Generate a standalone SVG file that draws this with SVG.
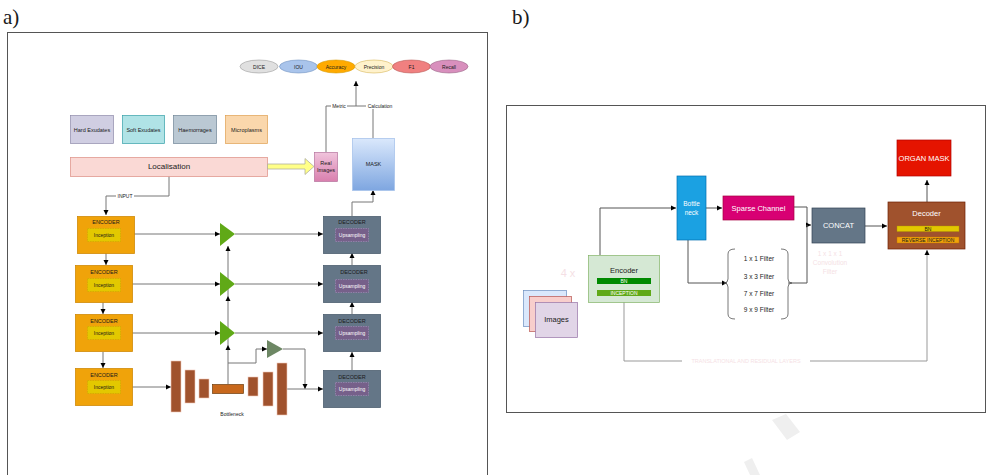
<svg xmlns="http://www.w3.org/2000/svg" width="989" height="475" viewBox="0 0 989 475">
<defs>
<marker id="ah" markerUnits="userSpaceOnUse" markerWidth="6" markerHeight="6" refX="5" refY="3" orient="auto">
<path d="M0,0.5 L5,3 L0,5.5 Z" fill="#000"/>
</marker>
<linearGradient id="maskg" x1="0" y1="0" x2="0" y2="1">
<stop offset="0" stop-color="#dae8fc"/>
<stop offset="1" stop-color="#7ea6e0"/>
</linearGradient>
<linearGradient id="realg" x1="0" y1="0" x2="0" y2="1">
<stop offset="0" stop-color="#f0c4dc"/>
<stop offset="1" stop-color="#d97fae"/>
</linearGradient>
<style>
text{font-family:"Liberation Sans",Arial,sans-serif;fill:#1a1a1a;text-anchor:middle;dominant-baseline:central}
.lbl{font-family:"Liberation Serif","Times New Roman",serif;font-size:21px;text-anchor:start}
.frame{fill:none;stroke:#555;stroke-width:1}
.c{fill:none;stroke:#777;stroke-width:1}
.ca{fill:none;stroke:#777;stroke-width:1;marker-end:url(#ah)}
.cb{fill:none;stroke:#555;stroke-width:1;marker-end:url(#ah)}
.t5{font-size:5px}
.t55{font-size:5.5px}
.t6{font-size:6px}
.t65{font-size:6.5px}
.t7{font-size:7.5px}
.enc{fill:#f0a30a;stroke:#d08a08;stroke-width:0.8}
.inc{fill:#e3c800;stroke:#c9a800;stroke-width:0.6;stroke-dasharray:1.5 1}
.dec{fill:#647687;stroke:#4e5f70;stroke-width:0.8}
.ups{fill:#76608a;stroke:#a98dc0;stroke-width:0.6;stroke-dasharray:1.5 1}
.tri{fill:#60a917}
.bar{fill:#a0522d;stroke:#f0c8b8;stroke-width:0.6}
.w{fill:#fff}
.fp{fill:#f5dfe5}
</style>
</defs>

<!-- panel labels and frames -->
<text class="lbl" x="3" y="17">a)</text>
<text class="lbl" x="512" y="17">b)</text>
<rect class="frame" x="7.5" y="32.5" width="480" height="450"/>
<rect class="frame" x="506.5" y="105.5" width="479" height="307"/>

<!-- ===== connectors panel a ===== -->
<g id="connectors-a">
<path class="ca" d="M356,106 V81"/>
<path class="c" d="M326,152 V106 H373 V138"/>
<path class="ca" d="M169,176 V196 H106 V215"/>
<path class="ca" d="M106,253 V265"/>
<path class="ca" d="M103,302 V314"/>
<path class="ca" d="M103,352 V368"/>
<path class="ca" d="M134,234 H220"/>
<path class="ca" d="M132,284 H220"/>
<path class="ca" d="M132,333 H220"/>
<path class="ca" d="M132,387 H171"/>
<path class="ca" d="M235,234 H323"/>
<path class="ca" d="M235,284 H323"/>
<path class="ca" d="M235,333 H323"/>
<path class="ca" d="M228,384 V345"/>
<path class="ca" d="M228,345 V296"/>
<path class="ca" d="M228,296 V246"/>
<path class="ca" d="M228,363 H256 V349 H267"/>
<path class="ca" d="M283,349 H305 V389"/>
<path class="ca" d="M287,389 H323"/>
<path class="ca" d="M352,370 V352"/>
<path class="ca" d="M352,314 V302"/>
<path class="ca" d="M352,265 V253"/>
<path class="ca" d="M352,216 V202 H373 V190"/>
</g>

<!-- metric ovals -->
<g id="metrics">
<ellipse cx="259" cy="66.5" rx="19" ry="6.5" fill="#e0e0e0" stroke="#9a9a9a" stroke-width="0.6"/>
<text class="t5" x="259" y="66.5">DICE</text>
<ellipse cx="298.5" cy="66.5" rx="19" ry="6.5" fill="#a9c4eb" stroke="#6c8ebf" stroke-width="0.6"/>
<text class="t5" x="298.5" y="66.5">IOU</text>
<ellipse cx="336" cy="66.5" rx="19" ry="6.5" fill="#ffaa00" stroke="#d79b00" stroke-width="0.6"/>
<text class="t5" x="336" y="66.5">Accuracy</text>
<ellipse cx="374" cy="66.5" rx="19" ry="6.5" fill="#fff2cc" stroke="#d6b656" stroke-width="0.6"/>
<text class="t5" x="374" y="66.5">Precision</text>
<ellipse cx="411.5" cy="66.5" rx="19" ry="6.5" fill="#f08080" stroke="#b85450" stroke-width="0.6"/>
<text class="t5" x="411.5" y="66.5">F1</text>
<ellipse cx="449" cy="66.5" rx="19" ry="6.5" fill="#d88fbd" stroke="#996185" stroke-width="0.6"/>
<text class="t5" x="449" y="66.5">Recall</text>
</g>

<g id="metric-labels">
<rect x="331" y="103" width="16" height="6" fill="#fff"/>
<text class="t5" x="339" y="106">Metric</text>
<rect x="366" y="103" width="28" height="6" fill="#fff"/>
<text class="t5" x="380" y="106">Calculation</text>
<rect x="116" y="193" width="18" height="6" fill="#fff"/>
<text class="t5" x="125" y="196">INPUT</text>
</g>

<!-- legend -->
<g id="legend-hard"><rect x="70.5" y="115.5" width="43" height="28" fill="#d0cee2" stroke="#8f8aaa" stroke-width="0.7"/><text class="t55" x="92" y="129.5">Hard Exudates</text></g>
<g id="legend-soft"><rect x="122.5" y="115.5" width="42" height="28" fill="#b0e3e6" stroke="#36a0a8" stroke-width="0.7"/><text class="t55" x="143.5" y="129.5">Soft Exudates</text></g>
<g id="legend-haem"><rect x="173.5" y="115.5" width="43" height="28" fill="#bac8d3" stroke="#6f8596" stroke-width="0.7"/><text class="t55" x="195" y="129.5">Haemorrages</text></g>
<g id="legend-micro"><rect x="225.5" y="115.5" width="42" height="28" fill="#fad7ac" stroke="#e0a050" stroke-width="0.7"/><text class="t55" x="246.5" y="129.5">Microplasms</text></g>

<g id="localisation"><rect x="70.5" y="157.5" width="197" height="19" fill="#fad9d5" stroke="#e09890" stroke-width="0.8"/><text x="169" y="166.5" style="font-size:8px;fill:#222">Localisation</text></g>
<g id="yellow-arrow"><path d="M267.5,164 H305 V158.5 L314,166.5 L305,174.5 V169 H267.5 Z" fill="#ffff88" stroke="#b0b0a0" stroke-width="0.8"/></g>
<g id="real-images"><rect x="314.5" y="152.5" width="23" height="29" fill="url(#realg)" stroke="#b5739d" stroke-width="0.7"/><text class="t55" x="326" y="162.5">Real</text><text class="t55" x="326" y="170">Images</text></g>
<g id="mask"><rect x="352.5" y="138.5" width="42" height="52" fill="url(#maskg)" stroke="#a9c4eb" stroke-width="0.8"/><text class="t55" x="373.5" y="164">MASK</text></g>

<!-- encoders -->
<g id="encoder1"><rect class="enc" x="77.5" y="216.5" width="57" height="37"/><text class="t55" x="106" y="221.5">ENCODER</text><rect class="inc" x="87.5" y="228.5" width="33" height="13"/><text class="t5" x="104" y="235">Inception</text></g>
<g id="encoder2"><rect class="enc" x="75.5" y="265.5" width="57" height="37"/><text class="t55" x="104" y="271.5">ENCODER</text><rect class="inc" x="87.5" y="278.5" width="33" height="13"/><text class="t5" x="104" y="285">Inception</text></g>
<g id="encoder3"><rect class="enc" x="75.5" y="314.5" width="57" height="37"/><text class="t55" x="104" y="320.5">ENCODER</text><rect class="inc" x="87.5" y="326.5" width="33" height="13"/><text class="t5" x="104" y="333">Inception</text></g>
<g id="encoder4"><rect class="enc" x="75.5" y="368.5" width="57" height="37"/><text class="t55" x="104" y="374.5">ENCODER</text><rect class="inc" x="87.5" y="380.5" width="33" height="13"/><text class="t5" x="104" y="387">Inception</text></g>

<!-- attention triangles -->
<g id="tri1"><path class="tri" d="M220,223 L235,234 L220,246 Z"/></g>
<g id="tri2"><path class="tri" d="M220,272 L235,284 L220,296 Z"/></g>
<g id="tri3"><path class="tri" d="M220,321 L235,333 L220,345 Z"/></g>
<g id="tri4"><path d="M267,340 L283,349 L267,358 Z" fill="#6d8764"/></g>

<!-- bottleneck -->
<g id="bottleneck-a">
<rect class="bar" x="171" y="361" width="10" height="51"/>
<rect class="bar" x="185" y="370" width="10" height="33"/>
<rect class="bar" x="199" y="379" width="10" height="19"/>
<rect x="212.5" y="384.5" width="31" height="9" fill="#c8681c" stroke="#6d3c0c" stroke-width="0.7"/>
<rect class="bar" x="248" y="377" width="10" height="19"/>
<rect class="bar" x="263" y="372" width="10" height="34"/>
<rect class="bar" x="277" y="363" width="10" height="52"/>
<text class="t5" x="232" y="414">Bottleneck</text>
</g>

<!-- decoders -->
<g id="decoder1"><rect class="dec" x="323.5" y="216.5" width="57" height="37"/><text class="t55" x="352" y="221.5">DECODER</text><rect class="ups" x="335.5" y="228.5" width="33" height="13"/><text class="t5 w" x="352" y="235">Upsampling</text></g>
<g id="decoder2"><rect class="dec" x="323.5" y="265.5" width="57" height="37"/><text class="t55" x="354" y="271.5">DECODER</text><rect class="ups" x="335.5" y="279.5" width="33" height="13"/><text class="t5 w" x="352" y="286">Upsampling</text></g>
<g id="decoder3"><rect class="dec" x="323.5" y="314.5" width="57" height="37"/><text class="t55" x="352" y="320.5">DECODER</text><rect class="ups" x="335.5" y="326.5" width="33" height="13"/><text class="t5 w" x="352" y="333">Upsampling</text></g>
<g id="decoder4"><rect class="dec" x="323.5" y="370.5" width="57" height="37"/><text class="t55" x="352" y="377">DECODER</text><rect class="ups" x="335.5" y="382.5" width="33" height="13"/><text class="t5 w" x="352" y="389">Upsampling</text></g>

<!-- ===== panel b ===== -->
<g id="connectors-b">
<path class="cb" d="M600,255 V208 H676"/>
<path class="cb" d="M706,208 H722"/>
<path class="cb" d="M794,207 H807 V225 H811"/>
<path class="c" style="stroke:#555" d="M788,283 H807 V225"/>
<path class="cb" d="M688,240 V283 H727"/>
<path class="cb" d="M865,226 H887"/>
<path class="cb" d="M927,202 V180"/>
<path class="c" style="stroke:#999" d="M624,302 V361 H682"/>
<path class="cb" style="stroke:#999" d="M810,361 H927 V250"/>
</g>

<g id="images">
<rect x="523.5" y="290.5" width="43" height="36" fill="#dae8fc" stroke="#6c8ebf" stroke-width="0.7"/>
<rect x="529.5" y="296.5" width="42" height="35" fill="#f8cecc" stroke="#b85450" stroke-width="0.7"/>
<rect x="535.5" y="302.5" width="42" height="35" fill="#e1d5e7" stroke="#9673a6" stroke-width="0.7"/>
<text class="t7" x="556.5" y="319.5">Images</text>
</g>
<text class="fp" x="568" y="273" style="font-size:11px">4 x</text>

<g id="encoder-b">
<rect x="588.5" y="255.5" width="71" height="47" fill="#d5e8d4" stroke="#82b366" stroke-width="0.7"/>
<text class="t7" x="624" y="270">Encoder</text>
<rect x="597" y="278" width="54" height="6" fill="#008a00"/>
<text class="t5 w" x="624" y="281">BN</text>
<rect x="597" y="290" width="54" height="6" fill="#60a917"/>
<text class="t5 w" x="624" y="293">INCEPTION</text>
</g>

<g id="bottleneck-b">
<rect x="677" y="176" width="29" height="64" fill="#1ba1e2" stroke="#006eaf" stroke-width="0.7"/>
<text class="t65 w" x="691.5" y="203">Bottle</text>
<text class="t65 w" x="691.5" y="212">neck</text>
</g>

<g id="sparse-channel">
<rect x="723" y="196" width="71" height="24" fill="#d80073" stroke="#a50040" stroke-width="0.7"/>
<text class="t7 w" x="758.5" y="208">Sparse Channel</text>
</g>

<g id="concat">
<rect x="812" y="208" width="53" height="35" fill="#647687" stroke="#314354" stroke-width="0.7"/>
<text class="t7 w" x="838.5" y="225.5">CONCAT</text>
</g>

<g id="decoder-b">
<rect x="888" y="202" width="77" height="47" fill="#a0522d" stroke="#6d1f00" stroke-width="0.7"/>
<text class="t7 w" x="926.5" y="213">Decoder</text>
<rect x="897" y="226" width="62" height="5.5" fill="#e3c800" stroke="#b09500" stroke-width="0.4"/>
<text class="t5" x="928" y="228.8">BN</text>
<rect x="897" y="237" width="62" height="6" fill="#f0a30a" stroke="#bd7000" stroke-width="0.4"/>
<text class="t5" x="928" y="240">REVERSE INCEPTION</text>
</g>

<g id="organ-mask">
<rect x="897" y="140" width="54" height="36" fill="#e51400" stroke="#b20000" stroke-width="0.7"/>
<text class="t7 w" x="924" y="158">ORGAN MASK</text>
</g>

<g id="filters">
<path d="M735,249 Q728,249 728,254 V279 Q728,283 724,283 Q728,283 728,287 V314 Q728,319 735,319" fill="none" stroke="#555" stroke-width="0.8"/>
<path d="M781,249 Q788,249 788,254 V279 Q788,283 792,283 Q788,283 788,287 V314 Q788,319 781,319" fill="none" stroke="#555" stroke-width="0.8"/>
<text class="t65" x="759" y="258">1 x 1 Filter</text>
<text class="t65" x="759" y="276">3 x 3 Filter</text>
<text class="t65" x="759" y="293">7 x 7 Filter</text>
<text class="t65" x="759" y="309">9 x 9 Filter</text>
</g>

<g id="faint-labels">
<text class="t65 fp" x="830" y="253">1 x 1 x 1</text>
<text class="t65 fp" x="830" y="262">Convolution</text>
<text class="t65 fp" x="830" y="271">Filter</text>
<text class="t55 fp" x="746" y="361">TRANSLATIONAL AND RESIDUAL LAYERS</text>
</g>

<!-- watermark fragments -->
<g id="watermark" fill="#efefef">
<path d="M772,420 L786,414 L800,432 L787,440 Z"/>
<path d="M744,462 L752,458 L760,475 L750,475 Z"/>
</g>
</svg>
